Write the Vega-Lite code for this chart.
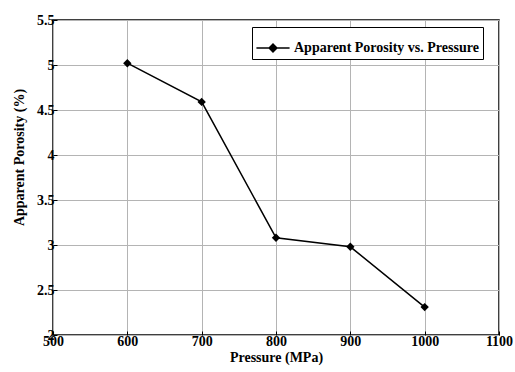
{
  "$schema": "https://vega.github.io/schema/vega-lite/v6.json",
  "width": 446,
  "height": 315,
  "autosize": {"type": "none"},
  "padding": {"left": 53, "top": 20, "right": 16, "bottom": 37},
  "background": "white",
  "config": {
    "view": {"stroke": "black", "strokeWidth": 1.5},
    "font": "Liberation Serif",
    "axis": {
      "labelFont": "Liberation Serif", "labelFontWeight": "bold", "labelFontSize": 14, "labelColor": "black",
      "titleFont": "Liberation Serif", "titleFontWeight": "bold", "titleFontSize": 14, "titleColor": "black",
      "gridColor": "#b4b4b4", "gridWidth": 1, "gridOpacity": 1,
      "domain": false, "tickColor": "black", "tickSize": -4, "labelPadding": 3
    }
  },
  "data": {"values": [
    {"pressure": 600, "porosity": 5.02, "series": "Apparent Porosity vs. Pressure"},
    {"pressure": 700, "porosity": 4.59, "series": "Apparent Porosity vs. Pressure"},
    {"pressure": 800, "porosity": 3.08, "series": "Apparent Porosity vs. Pressure"},
    {"pressure": 900, "porosity": 2.98, "series": "Apparent Porosity vs. Pressure"},
    {"pressure": 1000, "porosity": 2.31, "series": "Apparent Porosity vs. Pressure"}
  ]},
  "mark": {"type": "line", "color": "black", "strokeWidth": 1.5, "point": {"shape": "diamond", "size": 70, "filled": true, "color": "black"}},
  "encoding": {
    "x": {"field": "pressure", "type": "quantitative", "title": "Pressure (MPa)",
      "scale": {"domain": [500, 1100], "nice": false},
      "axis": {"values": [500, 600, 700, 800, 900, 1000, 1100], "format": "d", "titlePadding": 2, "labelFlush": false}},
    "y": {"field": "porosity", "type": "quantitative", "title": "Apparent Porosity (%)",
      "scale": {"domain": [2, 5.5], "nice": false, "zero": false},
      "axis": {"values": [2, 2.5, 3, 3.5, 4, 4.5, 5, 5.5], "format": "~g", "titlePadding": 10, "titleY": 137, "labelFlush": false}},
    "color": {"field": "series", "type": "nominal", "scale": {"range": ["black"]},
      "legend": {"title": null, "orient": "none", "legendX": 199, "legendY": 7,
        "symbolType": "M-1,-0.05L1,-0.05L1,0.05L-1,0.05Z M0,-0.3L0.3,0L0,0.3L-0.3,0Z",
        "symbolSize": 1100, "symbolStrokeWidth": 0, "symbolFillColor": "black", "symbolStrokeColor": "black",
        "labelFont": "Liberation Serif", "labelFontWeight": "bold", "labelFontSize": 14, "labelColor": "black",
        "labelLimit": 400,
        "strokeColor": "black", "fillColor": "white", "padding": 4, "labelOffset": 4,
        "encode": {"symbols": {"update": {"fill": {"value": "black"}, "fillOpacity": {"value": 1}, "opacity": {"value": 1}}}}}}
  }
}
